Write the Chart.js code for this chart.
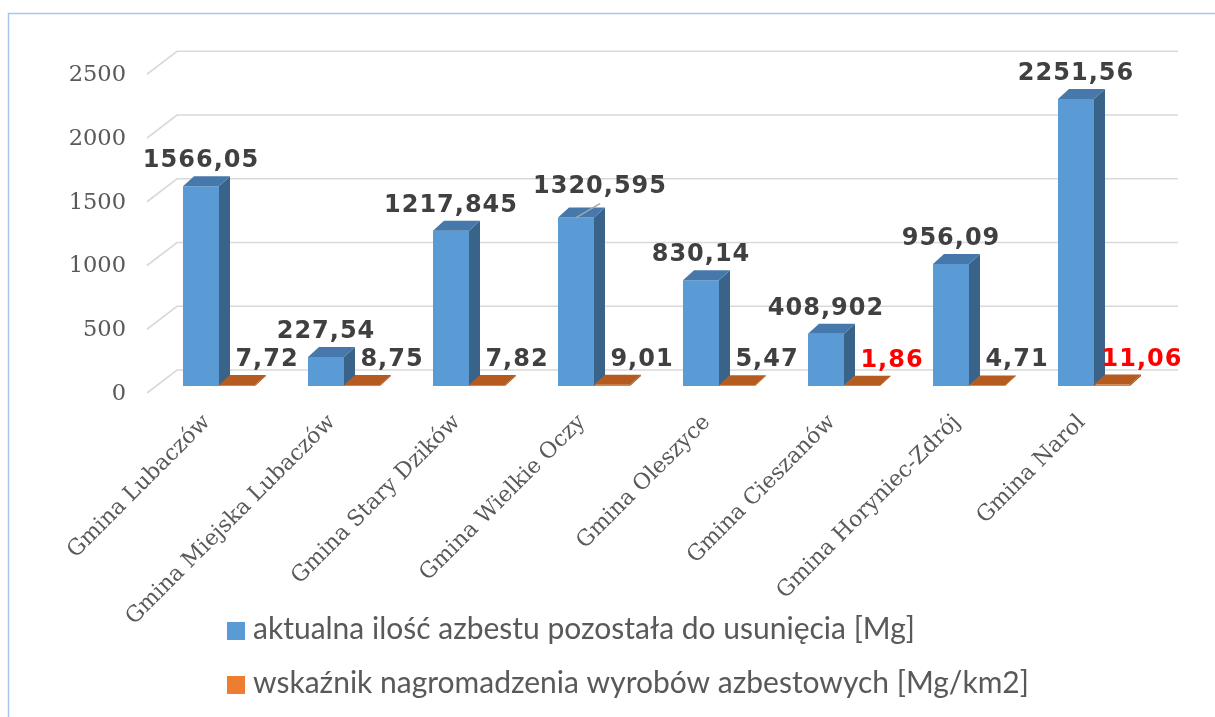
<!DOCTYPE html>
<html><head><meta charset="utf-8">
<script src="https://cdn.jsdelivr.net/npm/chart.js@4.4.1/dist/chart.umd.min.js"></script>
<style>html,body{margin:0;padding:0;background:#fff;}canvas{display:block}</style>
</head><body>
<canvas id="c" width="1215" height="717"></canvas>
<script>
const categories = ['Gmina Lubaczów', 'Gmina Miejska Lubaczów', 'Gmina Stary Dzików', 'Gmina Wielkie Oczy', 'Gmina Oleszyce', 'Gmina Cieszanów', 'Gmina Horyniec-Zdrój', 'Gmina Narol'];
const asbestosMg = [1566.05, 227.54, 1217.845, 1320.595, 830.14, 408.902, 956.09, 2251.56];
const densityMgKm2 = [7.72, 8.75, 7.82, 9.01, 5.47, 1.86, 4.71, 11.06];
const yTickValues = [0, 500, 1000, 1500, 2000, 2500];
const seriesNames = ['aktualna ilość azbestu pozostała do usunięcia [Mg]', 'wskaźnik nagromadzenia wyrobów azbestowych [Mg/km2]'];

const fmt = v => String(v).replace('.', ',');
const DX = 11, DY = 10;
const frontColors = ['#5B9BD5', '#ED7D31'];
const topColors = ['#4678AB', '#B65B1F'];
const sideColors = ['#3A6389', '#9A4C18'];

function poly(ctx, pts, color) {
  ctx.beginPath();
  ctx.moveTo(pts[0][0], pts[0][1]);
  for (let k = 1; k < pts.length; k++) ctx.lineTo(pts[k][0], pts[k][1]);
  ctx.closePath();
  ctx.fillStyle = color;
  ctx.fill();
}

const threeD = {
  id: 'threeD',
  beforeDatasetsDraw(chart) {
    const ctx = chart.ctx, xs = chart.scales.x, ys = chart.scales.y;
    const left = xs.left, right = xs.right;
    ctx.save();
    // back wall grid
    ctx.strokeStyle = '#d9d9d9';
    ctx.lineWidth = 1.6;
    yTickValues.forEach(v => {
      const py = ys.getPixelForValue(v);
      ctx.beginPath();
      ctx.moveTo(left - 9.5, py + 7);
      ctx.lineTo(left + 20.5, py - 16);
      ctx.lineTo(right + 21.5, py - 16);
      ctx.stroke();
    });
    // y tick labels
    ctx.fillStyle = '#595959';
    ctx.font = '22.5px "DejaVu Serif"';
    ctx.textAlign = 'right';
    ctx.textBaseline = 'middle';
    yTickValues.forEach(v => {
      ctx.fillText(String(v), 126, ys.getPixelForValue(v) + 8);
    });
    // category labels
    ctx.font = '22px "DejaVu Serif"';
    const base = ys.getPixelForValue(0);
    categories.forEach((c, i) => {
      const x = xs.getPixelForValue(i);
      ctx.save();
      ctx.translate(x - 12, base + 33);
      ctx.rotate(-Math.PI / 4);
      ctx.textAlign = 'right';
      ctx.textBaseline = 'middle';
      ctx.fillText(c, 0, 0);
      ctx.restore();
    });
    ctx.restore();
  },
  afterDatasetsDraw(chart) {
    const ctx = chart.ctx;
    const metas = [chart.getDatasetMeta(0), chart.getDatasetMeta(1)];
    ctx.save();
    for (let i = 0; i < categories.length; i++) {
      metas.forEach((m, d) => {
        const b = m.data[i].getProps(['x', 'y', 'base', 'width'], true);
        const l = b.x - b.width / 2, r = b.x + b.width / 2, t = b.y, bo = b.base;
        poly(ctx, [[r, t], [r + DX, t - DY], [r + DX, bo - DY], [r, bo]], sideColors[d]);
        poly(ctx, [[l, t], [l + DX, t - DY], [r + DX, t - DY], [r, t]], topColors[d]);
      });
    }
    // data labels
    ctx.font = 'bold 24px "DejaVu Sans"';
    try { ctx.letterSpacing = '1px'; } catch (e) {}
    ctx.textAlign = 'center';
    ctx.textBaseline = 'alphabetic';
    const dmin = Math.min(...densityMgKm2), dmax = Math.max(...densityMgKm2);
    const series = [asbestosMg, densityMgKm2];
    metas.forEach((m, d) => {
      m.data.forEach((el, i) => {
        const b = el.getProps(['x', 'y'], true);
        const v = series[d][i];
        let lx = b.x + (d === 1 ? 30 : 0);
        let ly = b.y - 19;
        if (d === 0 && i === 3) {
          // label moved aside with a leader line
          lx += 24; ly -= 6;
          ctx.save();
          ctx.strokeStyle = '#a6a6a6';
          ctx.lineWidth = 1.5;
          ctx.beginPath();
          ctx.moveTo(b.x, b.y);
          ctx.lineTo(lx, ly + 11);
          ctx.stroke();
          ctx.restore();
        }
        ctx.fillStyle = (d === 1 && (v === dmin || v === dmax)) ? '#FF0000' : '#404040';
        ctx.fillText(fmt(v), lx, ly);
      });
    });
    ctx.restore();
  },
  afterDraw(chart) {
    const ctx = chart.ctx;
    ctx.save();
    // legend
    ctx.font = '30px Lato';
    ctx.textAlign = 'left';
    ctx.textBaseline = 'alphabetic';
    seriesNames.forEach((n, d) => {
      const top = 622 + d * 54;
      ctx.fillStyle = frontColors[d];
      ctx.fillRect(227, top, 18, 18);
      ctx.fillStyle = '#595959';
      ctx.fillText(n, 253, top + 17);
    });
    // outer frame
    ctx.strokeStyle = '#A9C6EA';
    ctx.lineWidth = 1.5;
    ctx.strokeRect(8.5, 13.5, 1400, 900);
    ctx.restore();
  }
};

new Chart(document.getElementById('c').getContext('2d'), {
  type: 'bar',
  data: {
    labels: categories,
    datasets: [
      { label: seriesNames[0], data: asbestosMg, backgroundColor: frontColors[0], categoryPercentage: 0.576, barPercentage: 1 },
      { label: seriesNames[1], data: densityMgKm2, backgroundColor: frontColors[1], categoryPercentage: 0.576, barPercentage: 1 }
    ]
  },
  options: {
    responsive: false,
    animation: false,
    devicePixelRatio: 1,
    layout: { padding: { left: 156.5, right: 58.5, top: 67.25, bottom: 331 } },
    plugins: { legend: { display: false }, tooltip: { enabled: false } },
    scales: {
      x: { display: false, offset: true },
      y: { display: false, min: 0, max: 2500, ticks: { stepSize: 500 } }
    }
  },
  plugins: [threeD]
});
</script>
</body></html>
